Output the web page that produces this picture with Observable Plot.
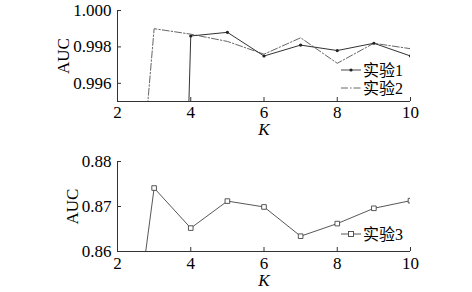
<!DOCTYPE html>
<html><head><meta charset="utf-8">
<script src="https://cdn.jsdelivr.net/npm/d3@7"></script>
<script src="https://cdn.jsdelivr.net/npm/@observablehq/plot@0.6"></script>
<style>
body{margin:0;background:#fff;}
#chart{width:472px;}
svg{display:block;}
</style></head><body><div id="chart"></div>
<script>
// data
const kTop1 = [3, 4, 5, 6, 7, 8, 9, 10];
const exp1 = [0.927, 0.9986, 0.9988, 0.9975, 0.9981, 0.9978, 0.9982, 0.9975];
const kTop2 = [2, 3, 4, 5, 6, 7, 8, 9, 10];
const exp2 = [0.9755, 0.9990, 0.9987, 0.9983, 0.9976, 0.9985, 0.9971, 0.9982, 0.9979];
const kBot = [2, 3, 4, 5, 6, 7, 8, 9, 10];
const exp3 = [0.8128, 0.8741, 0.8652, 0.8712, 0.8699, 0.8634, 0.8662, 0.8696, 0.8713];
const xTicks = [2, 4, 6, 8, 10];
const yTicksTop = [0.996, 0.998, 1.000];
const yTicksBot = [0.86, 0.87, 0.88];
const seriesNames = ["实验1", "实验2", "实验3"];

const FONT = "'Liberation Serif','Noto Sans CJK SC',serif";
const rows1 = kTop1.map((k, i) => ({k, v: exp1[i]}));
const rows2 = kTop2.map((k, i) => ({k, v: exp2[i]}));
const rows3 = kBot.map((k, i) => ({k, v: exp3[i]}));

function axes(yDomain, yTicks, yFmt, auxDx, kDy, xPad) {
  return [
    Plot.ruleY([yDomain[0]], {stroke: "#333", strokeWidth: 1}),
    Plot.ruleX([2], {stroke: "#333", strokeWidth: 1}),
    Plot.axisX({ticks: xTicks, tickSize: -4, tickPadding: xPad, tickFormat: d => d, stroke: "#333", label: null, fontSize: 17}),
    Plot.axisY({ticks: yTicks, tickSize: -4, tickPadding: 10, tickFormat: yFmt, stroke: "#333", label: null, fontSize: 17}),
    Plot.text(["AUC"], {frameAnchor: "left", dx: auxDx, rotate: -90, fontSize: 17, textAnchor: "middle", lineAnchor: "middle"}),
    Plot.text(["K"], {frameAnchor: "bottom", dy: kDy, fontSize: 17, fontStyle: "italic", lineAnchor: "middle"})
  ];
}

const topChart = Plot.plot({
  width: 472, height: 145,
  marginLeft: 117, marginRight: 62, marginTop: 10, marginBottom: 44,
  style: {fontFamily: FONT, fontSize: "17px", color: "#000", background: "#fff"},
  x: {domain: [2, 10]},
  y: {domain: [0.995, 1.000]},
  marks: [
    ...axes([0.995, 1.000], yTicksTop, d3.format(".3f"), -54, 28, 8),
    Plot.line(rows2, {x: "k", y: "v", stroke: "#555", strokeWidth: 0.9, strokeDasharray: "7,2,1.5,2", clip: true}),
    Plot.line(rows1, {x: "k", y: "v", stroke: "#333", strokeWidth: 1, clip: true}),
    Plot.dot(rows1, {x: "k", y: "v", r: 1.6, fill: "#222", stroke: "none", clip: true})
  ]
});

const botChart = Plot.plot({
  width: 472, height: 147,
  marginLeft: 117, marginRight: 62, marginTop: 16, marginBottom: 41,
  style: {fontFamily: FONT, fontSize: "17px", color: "#000", background: "#fff"},
  x: {domain: [2, 10]},
  y: {domain: [0.86, 0.88]},
  marks: [
    ...axes([0.86, 0.88], yTicksBot, d3.format(".2f"), -45, 29, 9),
    Plot.line(rows3, {x: "k", y: "v", stroke: "#444", strokeWidth: 0.9, clip: true}),
    Plot.dot(rows3, {x: "k", y: "v", symbol: "square", r: 2.6, fill: "#fff", stroke: "#444", strokeWidth: 0.9, clip: true})
  ]
});

// legends
function legend(svg, items) {
  const g = d3.select(svg).append("g").attr("font-family", FONT).attr("font-size", 16).attr("text-anchor", "start");
  items.forEach(it => {
    g.append("line").attr("x1", 341).attr("x2", 361).attr("y1", it.y).attr("y2", it.y)
      .attr("stroke", it.stroke).attr("stroke-width", 0.9).attr("stroke-dasharray", it.dash || null);
    if (it.marker === "dot") g.append("circle").attr("cx", 351).attr("cy", it.y).attr("r", 1.6).attr("fill", "#222");
    if (it.marker === "square") g.append("rect").attr("x", 348.5).attr("y", it.y - 2.5).attr("width", 5).attr("height", 5)
      .attr("fill", "#fff").attr("stroke", "#444").attr("stroke-width", 0.9);
    g.append("text").attr("x", 363).attr("y", it.y).attr("dy", "0.35em").attr("text-anchor", "start").text(it.name);
  });
}
legend(topChart, [
  {y: 70, name: seriesNames[0], stroke: "#333", marker: "dot"},
  {y: 88, name: seriesNames[1], stroke: "#555", dash: "7,2,1.5,2"}
]);
legend(botChart, [
  {y: 89, name: seriesNames[2], stroke: "#444", marker: "square"}
]);

document.getElementById("chart").append(topChart, botChart);
</script></body></html>
